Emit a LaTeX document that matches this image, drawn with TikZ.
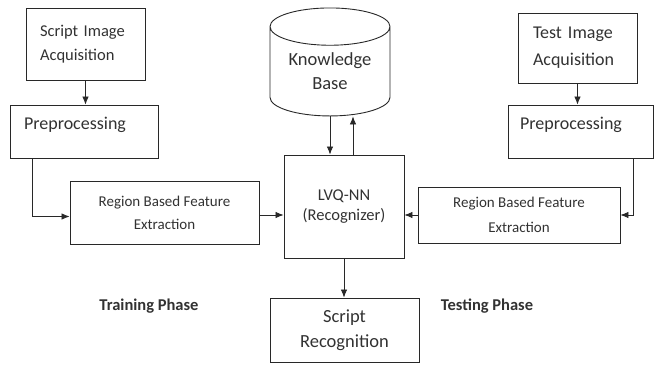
\documentclass[tikz,border=0pt]{standalone}
\usepackage{fontspec}
\setmainfont{Carlito}
\usetikzlibrary{positioning,calc,arrows.meta,shapes.geometric}
\definecolor{linecolor}{RGB}{40, 40, 40}
\definecolor{textcolor}{RGB}{50, 50, 50}

\begin{document}
\begin{tikzpicture}[
    x=1pt, y=-1pt,
    box/.style={rectangle, draw=linecolor, line width=0.9pt, inner sep=0pt, align=center, text=textcolor},
    arrow/.style={-{Latex[length=8pt,width=6.5pt]}, line width=0.8pt, draw=linecolor},
    phase/.style={font=\fontsize{16.5}{20}\selectfont\bfseries, text=textcolor}
]
\useasboundingbox (0,0) rectangle (654,370);

% Training side
\node[box, align=left, minimum width=119pt, minimum height=72pt, text width=91pt,
      font=\fontsize{16.5}{24}\selectfont] (sia) at (85.5,44) {Script Image\\Acquisition};
\node[box, align=left, minimum width=148pt, minimum height=53pt, text width=120pt, text depth=17pt,
      font=\fontsize{18}{22}\selectfont] (pre1) at (84,131.5) {Preprocessing};
\node[box, minimum width=189pt, minimum height=63pt,
      font=\fontsize{15}{23}\selectfont] (rbfe1) at (164.5,212.5) {Region Based Feature\\Extraction};

% Knowledge base and recognizer
\node[cylinder, shape border rotate=90, aspect=0.45, draw=linecolor, line width=0.9pt,
      minimum width=120pt, minimum height=108pt, inner sep=0pt, align=center, text=textcolor,
      font=\fontsize{18.5}{24}\selectfont] (kb) at (330,71.5) {Knowledge\\Base};
\node[box, minimum width=120pt, minimum height=103pt,
      font=\fontsize{16.5}{20}\selectfont] (lvq) at (344,206.5) {LVQ-NN\\(Recognizer)};
\node[box, minimum width=149pt, minimum height=64pt,
      font=\fontsize{18.5}{25}\selectfont] (sr) at (344.5,330) {Script\\Recognition};

% Testing side
\node[box, align=left, minimum width=119pt, minimum height=70pt, text width=89pt,
      font=\fontsize{18}{27}\selectfont] (tia) at (577.5,48) {Test Image\\Acquisition};
\node[box, align=left, minimum width=145pt, minimum height=53pt, text width=121pt, text depth=17pt,
      font=\fontsize{18}{22}\selectfont] (pre2) at (580.5,131.5) {Preprocessing};
\node[box, minimum width=202pt, minimum height=56pt,
      font=\fontsize{15}{25}\selectfont] (rbfe2) at (519,215) {Region Based Feature\\Extraction};

% Phase labels
\node[phase] (train) at (149,306) {Training Phase};
\node[phase] (test) at (487,306) {Testing Phase};

% Arrows
\draw[arrow] (sia.south) -- (sia.south |- pre1.north);
\draw[arrow] ([xshift=23pt]pre1.south west) |- ([yshift=-4pt]rbfe1.west);
\draw[arrow] ([yshift=-2.5pt]rbfe1.east) -- ([yshift=-2.5pt]rbfe1.east -| lvq.west);
\draw[arrow] (kb.south) -- (kb.south |- lvq.north);
\draw[arrow] ([xshift=9pt]lvq.north) -- ([xshift=9pt]lvq.north |- kb.south);
\draw[arrow] (tia.south) -- (tia.south |- pre2.north);
\draw[arrow] ([xshift=-20pt]pre2.south east) |- (rbfe2.east);
\draw[arrow] (rbfe2.west) -- (rbfe2.west -| lvq.east);
\draw[arrow] (lvq.south) -- (lvq.south |- sr.north);

\end{tikzpicture}
\end{document}
